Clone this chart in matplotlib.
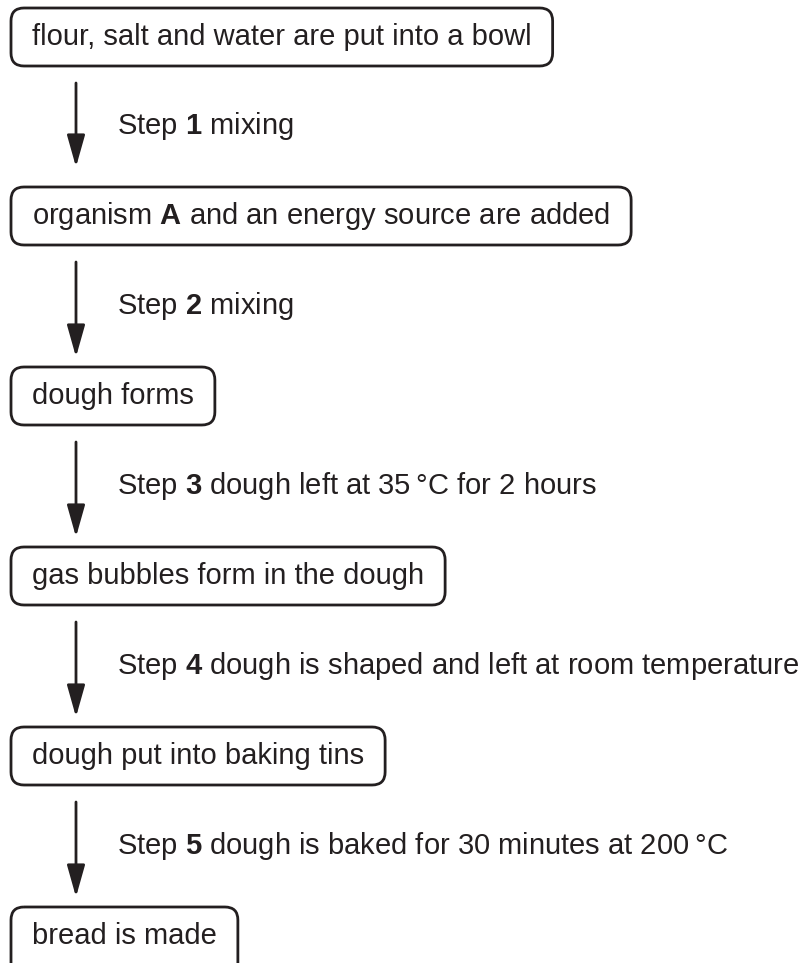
import matplotlib
matplotlib.use("Agg")
import matplotlib.pyplot as plt
from matplotlib.patches import FancyBboxPatch

plt.rcParams['font.family'] = ['Liberation Sans', 'DejaVu Sans']
plt.rcParams['mathtext.fontset'] = 'custom'
plt.rcParams['mathtext.rm'] = 'Liberation Sans'
plt.rcParams['mathtext.bf'] = 'Liberation Sans:bold'

# Flow chart content
box_labels = [
    "flour, salt and water are put into a bowl",
    r"organism $\mathbf{A}$ and an energy source are added",
    "dough forms",
    "gas bubbles form in the dough",
    "dough put into baking tins",
    "bread is made",
]
step_numbers = ["1", "2", "3", "4", "5"]
step_texts = [
    "mixing",
    "mixing",
    "dough left at 35\u2009°C for 2 hours",
    "dough is shaped and left at room temperature",
    "dough is baked for 30 minutes at 200\u2009°C",
]

ink = '#231f20'
fsize = 21

fig = plt.figure(figsize=(8.05, 9.63), dpi=100)
ax = fig.add_axes([0, 0, 1, 1])
ax.set_xlim(0, 805)
ax.set_ylim(963, 0)
ax.axis('off')

box_top = [8, 187, 367, 547, 727, 907]
box_h = 58
box_x = 11
pad = 21

texts = []
for top, label in zip(box_top, box_labels):
    t = ax.text(box_x + pad, top + 37, label, fontsize=fsize, color=ink,
                ha='left', va='baseline')
    texts.append(t)

fig.canvas.draw()
inv = ax.transData.inverted()
for i, (t, top) in enumerate(zip(texts, box_top)):
    bb = t.get_window_extent()
    x1 = inv.transform((bb.x1, bb.y1))[0]
    w = x1 + pad - box_x
    # last box runs off the bottom of the picture
    h = box_h if i < len(box_top) - 1 else 90
    ax.add_patch(FancyBboxPatch((box_x, top), w, h,
                                boxstyle='round,pad=0,rounding_size=13',
                                lw=2, ec=ink, fc='none'))

# arrows and step captions
for i, (num, txt) in enumerate(zip(step_numbers, step_texts)):
    y0 = box_top[i] + box_h + 17
    y1 = box_top[i + 1] - (20 if i == 0 else 10)
    ax.annotate('', xy=(76, y1), xytext=(76, y0),
                arrowprops=dict(arrowstyle='-|>,head_length=1.95,head_width=0.55',
                                lw=2, color=ink, shrinkA=0, shrinkB=0,
                                mutation_scale=10))
    mid = (box_top[i] + box_h + box_top[i + 1]) / 2
    ax.text(117, mid + 8, r"Step $\mathbf{%s}$ %s" % (num, txt),
            fontsize=fsize, color=ink, ha='left', va='baseline')

fig.savefig('out.png', dpi=100)
